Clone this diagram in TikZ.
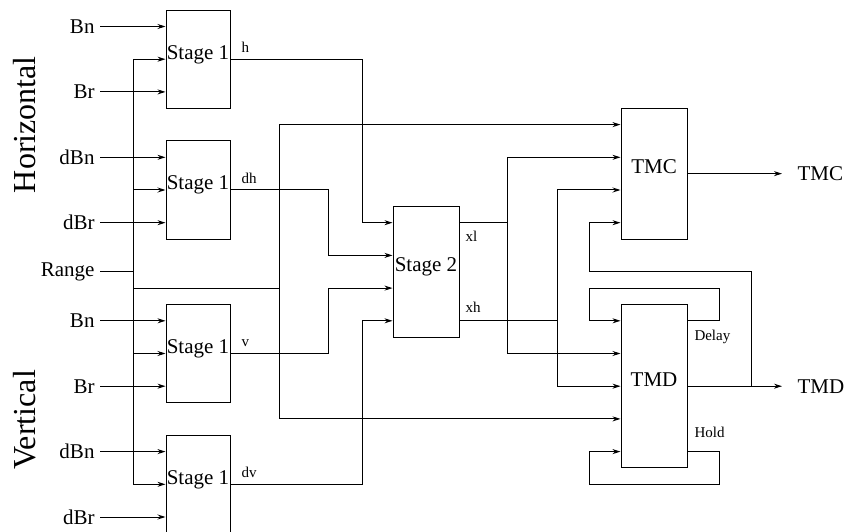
\documentclass[tikz,border=0pt]{standalone}
\usepackage{fontspec}
\setmainfont{Liberation Serif}
\usepackage{tikz}
\usetikzlibrary{arrows.meta}

\begin{document}
\begin{tikzpicture}[
    x=1pt, y=-32.7pt,
    line width=1pt,
    block/.style={draw, line width=1pt, inner sep=0pt, text height=14pt, text depth=14pt,
                  font=\fontsize{21}{24}\selectfont},
    inlbl/.style={anchor=east, inner ysep=0pt, inner xsep=5pt, font=\fontsize{21}{24}\selectfont},
    outlbl/.style={anchor=west, inner ysep=0pt, inner xsep=15pt, font=\fontsize{21}{24}\selectfont},
    small/.style={inner sep=1pt, font=\fontsize{15}{17}\selectfont},
    side/.style={rotate=90, font=\fontsize{32}{36}\selectfont},
    arr/.style={-{Stealth[length=8pt, width=5pt]}}
]
\useasboundingbox (0,-0.8104) rectangle (844,15.4587);

\node[block, minimum width=64pt, minimum height=98.1pt] (stageh) at (198,1) {Stage 1};
\node[block, minimum width=64pt, minimum height=98.1pt] (stagedh) at (198,5) {Stage 1};
\node[block, minimum width=64pt, minimum height=98.1pt] (stagev) at (198,10) {Stage 1};
\node[block, minimum width=64pt, minimum height=98.1pt] (stagedv) at (198,14) {Stage 1};
\node[block, minimum width=66pt, minimum height=130.8pt] (stagetwo) at (426,7.5) {Stage 2};
\node[block, minimum width=66pt, minimum height=130.8pt] (tmc) at (654,4.5) {TMC};
\node[block, minimum width=66pt, minimum height=163.5pt] (tmd) at (654,11) {TMD};

\node[side] (horiz) at (25,3) {Horizontal};
\node[side] (vert) at (25,12.03) {Vertical};

% Inputs on the left
\foreach \n/\t/\r in {hBn/Bn/0, hBr/Br/2, hdBn/dBn/4, hdBr/dBr/6,
                      vBn/Bn/9, vBr/Br/11, vdBn/dBn/13, vdBr/dBr/15} {
    \node[inlbl] (\n) at (100,\r) {\t};
    \draw[arr] (\n.east) -- (\n.east -| stageh.west);
}
\node[inlbl] (rng) at (100,7.5) {Range};
\draw (rng.east) -- (133,7.5);
\draw (133,1) -- (133,14);
\foreach \s/\r in {stageh/1, stagedh/5, stagev/10, stagedv/14}
    \draw[arr] (133,\r) -- (\s.west);

\draw (133,8) -- (279,8);
\draw[arr] (279,12) -- (279,3) -- (tmc.west |- 0,3);
\draw[arr] (279,3) -- (279,12) -- (tmd.west |- 0,12);

% Stage 1 to Stage 2
\draw[arr] (stageh.east) -| (362,6) -- (stagetwo.west |- 0,6);
\draw[arr] (stagedh.east) -| (328,7) -- (stagetwo.west |- 0,7);
\draw[arr] (stagev.east) -| (328,8) -- (stagetwo.west |- 0,8);
\draw[arr] (stagedv.east) -| (362,9) -- (stagetwo.west |- 0,9);

\node[small, anchor=south west] (labh) at (240,0.85) {h};
\node[small, anchor=south west] (labdh) at (240,4.85) {dh};
\node[small, anchor=south west] (labv) at (240,9.85) {v};
\node[small, anchor=south west] (labdv) at (240,13.85) {dv};

% Stage 2 to TMC / TMD
\draw (stagetwo.east |- 0,6) -- (507,6);
\draw[arr] (507,10) -- (507,4) -- (tmc.west |- 0,4);
\draw[arr] (507,4) -- (507,10) -- (tmd.west |- 0,10);
\draw (stagetwo.east |- 0,9) -- (557,9);
\draw[arr] (557,11) -- (557,5) -- (tmc.west |- 0,5);
\draw[arr] (557,5) -- (557,11) -- (tmd.west |- 0,11);

\node[small, anchor=north west] (labxl) at (464,6.2) {xl};
\node[small, anchor=south west] (labxh) at (464,8.78) {xh};

% Outputs and feedback
\node[outlbl] (outtmc) at (782,4.5) {TMC};
\node[outlbl] (outtmd) at (782,11) {TMD};
\draw[arr] (tmc.east) -- (outtmc.west);
\draw[arr] (tmd.east |- 0,11) -- (outtmd.west);
\draw[arr] (751,11) -- (751,7.5) -| (589,6) -- (tmc.west |- 0,6);
\draw[arr] (tmd.east |- 0,9) -| (719,8) -| (589,9) -- (tmd.west |- 0,9);
\draw[arr] (tmd.east |- 0,13) -| (719,14) -| (589,13) -- (tmd.west |- 0,13);

\node[small, anchor=west] (labdelay) at (693,9.5) {Delay};
\node[small, anchor=west] (labhold) at (693,12.42) {Hold};
\end{tikzpicture}
\end{document}
